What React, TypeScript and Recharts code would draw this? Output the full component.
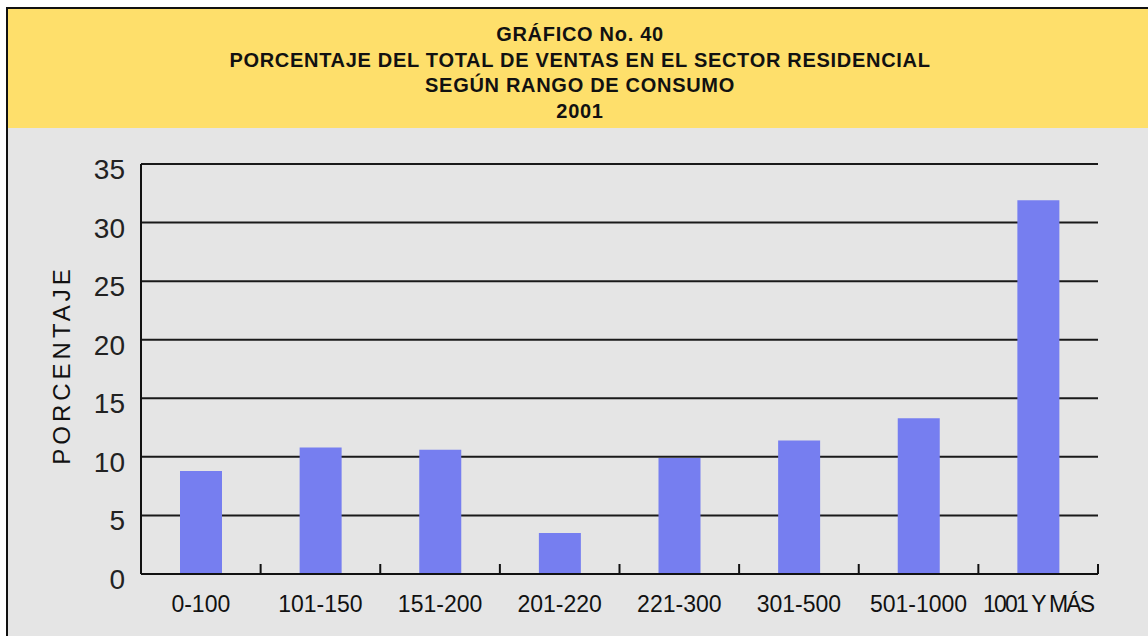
import React from "react";
import { BarChart, Bar, XAxis, YAxis, CartesianGrid } from "recharts";

const categories = ["0-100", "101-150", "151-200", "201-220", "221-300", "301-500", "501-1000", "1001 Y MÁS"];
const porcentaje = [8.8, 10.8, 10.6, 3.5, 9.9, 11.4, 13.3, 31.9];
const yTicks = [0, 5, 10, 15, 20, 25, 30, 35];
const titleLines = [
  "GRÁFICO No. 40",
  "PORCENTAJE DEL TOTAL DE VENTAS EN EL SECTOR RESIDENCIAL",
  "SEGÚN RANGO DE CONSUMO",
  "2001",
];

const data = categories.map((c, i) => ({ name: c, value: porcentaje[i] }));

const FONT = "'Liberation Sans', Arial, Helvetica, sans-serif";

function YTick(props: any) {
  const { x, y, payload } = props;
  return (
    <text x={x} y={y + 15} textAnchor="end" fontSize={28} fontFamily={FONT} fill="#222">
      {payload.value}
    </text>
  );
}

function XTick(props: any) {
  const { x, y, payload } = props;
  const off = payload.offset || 0;
  const last = payload.value === "1001 Y MÁS";
  return (
    <g>
      <line x1={x + off} x2={x + off} y1={y} y2={y - 10} stroke="#111" strokeWidth={2} />
      <text
        x={x}
        y={y + 38}
        textAnchor="middle"
        fontSize={23}
        fontFamily={FONT}
        fill="#111"
        letterSpacing={last ? -1.8 : 0}
      >
        {payload.value}
      </text>
    </g>
  );
}

export default function App() {
  return (
    <div style={{ position: "absolute", left: 0, top: 0, width: 1148, height: 636, overflow: "hidden", background: "#fff" }}>
      <div
        style={{
          position: "absolute",
          left: 6,
          top: 7,
          width: 1160,
          height: 640,
          border: "2px solid #111",
          background: "#e5e5e5",
        }}
      />
      <div
        style={{
          position: "absolute",
          left: 8,
          top: 9,
          width: 1160,
          height: 119,
          background: "#fedf6b",
        }}
      />
      {titleLines.map((t, i) => (
        <div
          key={i}
          style={{
            position: "absolute",
            left: 0,
            width: 1160,
            top: 23 + i * 25.5,
            textAlign: "center",
            fontFamily: FONT,
            fontWeight: "bold",
            fontSize: 20,
            letterSpacing: 0.7,
            lineHeight: "22px",
            color: "#111",
          }}
        >
          {t}
        </div>
      ))}
      <div style={{ position: "absolute", left: 0, top: 0 }}>
        <BarChart
          width={1148}
          height={636}
          data={data}
          margin={{ top: 164, right: 50, bottom: 0, left: 0 }}
          barSize={42}
        >
          <CartesianGrid vertical={false} stroke="#1a1a1a" strokeWidth={2} />
          <XAxis
            dataKey="name"
            height={62}
            interval={0}
            tickLine={false}
            tickSize={0}
            tickMargin={0}
            axisLine={{ stroke: "#111", strokeWidth: 2 }}
            tick={<XTick />}
          />
          <YAxis
            width={141}
            domain={[0, 35]}
            ticks={yTicks}
            interval={0}
            tickLine={false}
            tickSize={0}
            tickMargin={16}
            axisLine={{ stroke: "#111", strokeWidth: 2 }}
            tick={<YTick />}
            label={{
              value: "PORCENTAJE",
              angle: -90,
              position: "insideLeft",
              dx: 56,
              dy: -4,
              style: { fontFamily: FONT, fontSize: 24, letterSpacing: 4, fill: "#111", textAnchor: "middle" },
            }}
          />
          <Bar dataKey="value" fill="#767ef0" isAnimationActive={false} />
        </BarChart>
      </div>
    </div>
  );
}
